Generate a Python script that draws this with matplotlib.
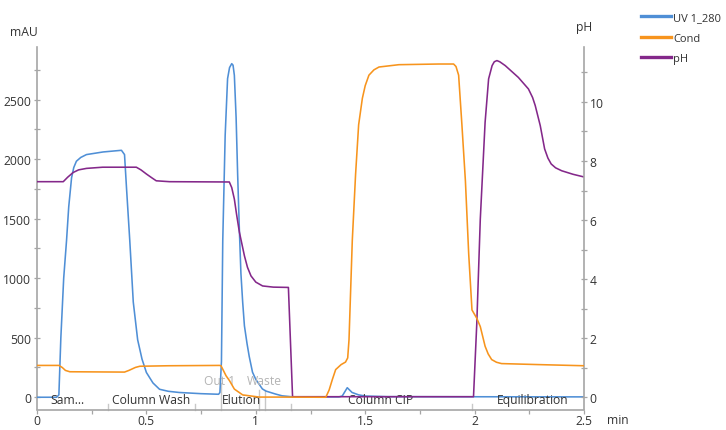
import matplotlib
matplotlib.use("Agg")
import matplotlib.pyplot as plt
from matplotlib.lines import Line2D

plt.rcParams['font.family'] = ['Open Sans', 'DejaVu Sans']

# ---- data ----
uv_t = [0, 0.09, 0.10, 0.109, 0.122, 0.135, 0.145, 0.158, 0.168, 0.18, 0.20, 0.226, 0.302,
        0.386, 0.40, 0.409, 0.424, 0.44, 0.46, 0.48, 0.50, 0.53, 0.56, 0.60, 0.65, 0.75,
        0.83, 0.836, 0.843, 0.849, 0.86, 0.871, 0.88, 0.89, 0.896, 0.902, 0.91, 0.917,
        0.925, 0.932, 0.94, 0.948, 0.96, 0.97, 0.985, 1.0, 1.03, 1.046, 1.09, 1.12, 1.17,
        1.38, 1.395, 1.418, 1.44, 1.47, 1.5, 1.6, 2.5]
uv_mau = [0, 0, 20, 500, 1000, 1317, 1600, 1844, 1930, 1983, 2015, 2039, 2061,
          2075, 2039, 1761, 1317, 800, 483, 320, 208, 120, 67, 50, 40, 30,
          25, 40, 300, 1316, 2200, 2677, 2770, 2803, 2790, 2705, 2350, 1875,
          1400, 1040, 800, 600, 450, 342, 210, 150, 70, 52, 27, 12, 3,
          3, 10, 80, 40, 20, 10, 5, 3]

cond_t = [0, 0.10, 0.115, 0.13, 0.15, 0.40, 0.42, 0.45, 0.47, 0.60, 0.834, 0.841, 0.864,
          0.88, 0.902, 0.94, 1.016, 1.10, 1.32, 1.335, 1.35, 1.365, 1.39, 1.41, 1.42,
          1.426, 1.441, 1.456, 1.47, 1.487, 1.50, 1.517, 1.54, 1.563, 1.654, 1.836, 1.904,
          1.915, 1.927, 1.942, 1.958, 1.973, 1.988, 2.01, 2.026, 2.048, 2.062, 2.078, 2.10,
          2.123, 2.29, 2.5]
cond_ms = [19.1, 19.1, 17.9, 16.1, 15.3, 15.1, 16.1, 17.9, 18.6, 18.9, 19.1, 18.9, 12.9,
           9.9, 4.9, 1.4, 0.1, 0.1, 0.0, 4.3, 10.7, 16.6, 19.6, 21.1, 23.6,
           34.5, 94.1, 133.7, 163.5, 179.4, 187.0, 193.3, 196.5, 198.2, 199.6, 200.0, 200.0,
           198.5, 193.3, 163.5, 129.8, 86.1, 52.4, 47.4, 42.4, 30.6, 26.0, 22.6, 21.0,
           20.2, 19.6, 18.9]

ph_t = [0, 0.12, 0.14, 0.165, 0.19, 0.226, 0.30, 0.454, 0.475, 0.50, 0.525, 0.545, 0.606,
        0.879, 0.89, 0.902, 0.912, 0.925, 0.948, 0.962, 0.978, 1.0, 1.031, 1.08, 1.149,
        1.168, 1.995, 2.01, 2.026, 2.048, 2.064, 2.08, 2.09, 2.102, 2.115, 2.14, 2.20, 2.246,
        2.265, 2.277, 2.30, 2.32, 2.335, 2.35, 2.37, 2.398, 2.45, 2.5]
ph_val = [7.3, 7.3, 7.45, 7.61, 7.7, 7.75, 7.79, 7.79, 7.7, 7.56, 7.43, 7.33, 7.3,
          7.29, 7.1, 6.71, 6.2, 5.59, 4.79, 4.4, 4.11, 3.9, 3.77, 3.73, 3.72,
          0.02, 0.02, 2.5, 6.03, 9.31, 10.78, 11.23, 11.36, 11.4, 11.36, 11.23, 10.83, 10.44,
          10.15, 9.88, 9.2, 8.41, 8.1, 7.9, 7.77, 7.67, 7.55, 7.46]

phase_names = ["Sam...", "Column Wash", "Elution", "Column CIP", "Equilibration"]
phase_label_x = [0.059, 0.342, 0.843, 1.421, 2.10]
phase_marks = [0.325, 0.72, 1.16, 1.99]
frac_names = ["Out 1", "Waste"]
frac_label_x = [0.761, 0.961]
frac_marks = [0.841, 1.016, 1.042]

series_names = ["UV 1_280", "Cond", "pH"]

# ---- style ----
C_UV = "#4f8fd6"
C_COND = "#f7941d"
C_PH = "#84288a"
SPINE = "#a6a6a6"
TXT = "#333333"
FS = 8.7

fig = plt.figure(figsize=(7.26, 4.31), dpi=100)
W, H = 726, 431
x0, x1, ytop, ybot = 37, 584, 48, 410.5
rect = [x0 / W, 1 - ybot / H, (x1 - x0) / W, (ybot - ytop) / H]
ax = fig.add_axes(rect)
ax_ph = ax.twinx()
ax_c = ax.twinx()

ax.set_xlim(0, 2.5)
ax.set_ylim(-103, 2943)
ax_ph.set_ylim(-0.413, 11.86)
ax_c.set_ylim(-103 / 14.0, 2943 / 14.0)
ax_c.axis('off')

LW = 1.15
ax.plot(uv_t, uv_mau, color=C_UV, lw=LW, zorder=3)
ax_c.plot(cond_t, cond_ms, color=C_COND, lw=LW)
ax_ph.plot(ph_t, ph_val, color=C_PH, lw=LW)

for a in (ax, ax_ph):
    a.spines['top'].set_visible(False)
    for s in a.spines.values():
        s.set_color(SPINE)
        s.set_linewidth(1.2)
ax.spines['right'].set_visible(False)
ax_ph.spines['left'].set_visible(False)
ax_ph.spines['bottom'].set_visible(False)

ax.set_yticks([0, 500, 1000, 1500, 2000, 2500])
ax.set_yticks([250, 750, 1250, 1750, 2250, 2750], minor=True)
ax.set_xticks([0, 0.5, 1, 1.5, 2, 2.5])
ax.set_xticklabels(["0", "0.5", "1", "1.5", "2", "2.5"])
ax.set_xticks([0.25, 0.75, 1.25, 1.75, 2.25], minor=True)
ax_ph.set_yticks([0, 2, 4, 6, 8, 10])
ax_ph.set_yticks([1, 3, 5, 7, 9, 11], minor=True)

ax.tick_params(axis='y', which='both', direction='inout', length=4, width=0.9, color=SPINE,
               labelsize=FS, labelcolor=TXT, pad=2)
ax.tick_params(axis='x', which='both', direction='out', length=3.2, width=0.9, color=SPINE,
               labelsize=FS, labelcolor=TXT, pad=0.3)
ax_ph.tick_params(axis='y', which='both', direction='inout', length=4, width=0.9, color=SPINE,
                  labelsize=FS, labelcolor=TXT, pad=2)

xt = ax.get_xaxis_transform()
# phase markers and labels
for m in phase_marks:
    ax.plot([m, m], [0, 0.014], transform=xt, color="#c8c8c8", lw=1, clip_on=False)
for name, px in zip(phase_names, phase_label_x):
    ax.text(px, 0.027, name, transform=xt, fontsize=FS, color=TXT, va='center', ha='left')
# fraction marks and labels
for m, h in zip(frac_marks, [0.072, 0.055, 0.055]):
    ax.plot([m, m], [0, h], transform=xt, color="#c8c8c8", lw=1, clip_on=False)
for name, px in zip(frac_names, frac_label_x):
    ax.text(px, 0.081, name, transform=xt, fontsize=FS, color="#b4b4b4", va='center', ha='left')

fig.text(10 / W, 1 - 32 / H, "mAU", fontsize=FS, color=TXT, va='center', ha='left')
fig.text(584 / W, 1 - 28 / H, "pH", fontsize=FS, color=TXT, va='center', ha='center')
fig.text(607 / W, 1 - 421 / H, "min", fontsize=FS, color=TXT, va='center', ha='left')

handles = [Line2D([], [], color=c, lw=2.4) for c in (C_UV, C_COND, C_PH)]
fig.legend(handles, series_names, loc='upper left', bbox_to_anchor=(639 / W, 1 - 11 / H),
           frameon=False, fontsize=8.0, handlelength=2.7, handletextpad=0.15,
           labelspacing=0.85, borderaxespad=0, borderpad=0.2, labelcolor=TXT)

fig.savefig("out.png", dpi=100)
